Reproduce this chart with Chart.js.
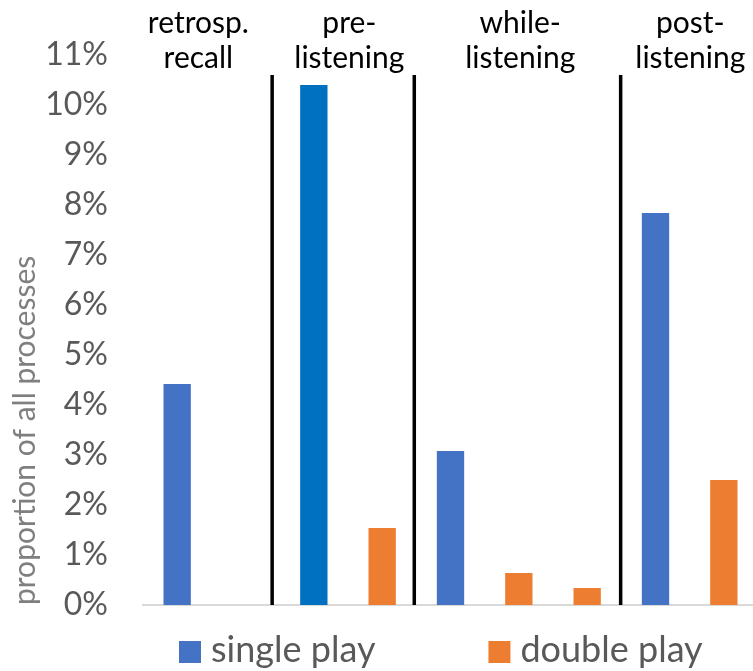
<!DOCTYPE html>
<html>
<head>
<meta charset="utf-8">
<script src="https://cdn.jsdelivr.net/npm/chart.js@4.4.1/dist/chart.umd.min.js"></script>
<style>
  html, body { margin: 0; padding: 0; overflow: hidden; background: #ffffff; }
  #wrap { width: 758px; height: 671px; }
</style>
</head>
<body>
<div id="wrap"><canvas id="chart" width="758" height="671"></canvas></div>
<script>
// Share of all coded processes (%), one bar per slot.
// Slots: recall (single, double) | pre-listening (single, double) |
//        while-listening (single, double 1st, double 2nd) | post-listening (single, double)
const slots = [
  'recall single', 'recall double',
  'pre single', 'pre double',
  'while single', 'while double 1st', 'while double 2nd',
  'post single', 'post double'
];
const singlePlay = [4.42, null, 10.4, null, 3.08, null, null, 7.84, null];
const doublePlay = [null, null, null, 1.54, null, 0.64, 0.34, null, 2.5];
const yTickValues = [0, 1, 2, 3, 4, 5, 6, 7, 8, 9, 10, 11];
const phaseNames = [
  ['retrosp.', 'recall'],
  ['pre-', 'listening'],
  ['while-', 'listening'],
  ['post-', 'listening']
];

const BLUE = '#4472C4';
const BLUE_DARK = '#0070C0';
const ORANGE = '#ED7D31';
const FONT = 'Lato';

Chart.defaults.font.family = FONT;

// Phase headings above the plot, centred in slot units of the x scale
const phaseHeadings = {
  id: 'phaseHeadings',
  afterDraw(chart, args, opts) {
    const { ctx, chartArea, scales: { x } } = chart;
    ctx.save();
    ctx.font = `${opts.size}px ${FONT}`;
    ctx.fillStyle = opts.color;
    ctx.textAlign = 'center';
    ctx.textBaseline = 'alphabetic';
    phaseNames.forEach((lines, i) => {
      const cx = x.getPixelForValue(opts.centres[i]);
      lines.forEach((line, j) => {
        ctx.fillText(line, cx, chartArea.top + opts.firstBaseline + j * opts.lineGap);
      });
    });
    ctx.restore();
  }
};

// Vertical separators between the listening phases
const phaseDividers = {
  id: 'phaseDividers',
  afterDatasetsDraw(chart, args, opts) {
    const { ctx, scales: { x, y } } = chart;
    ctx.save();
    ctx.strokeStyle = opts.color;
    ctx.lineWidth = opts.width;
    opts.at.forEach(v => {
      const px = x.getPixelForValue(v);
      ctx.beginPath();
      ctx.moveTo(px, y.getPixelForValue(opts.top));
      ctx.lineTo(px, y.getPixelForValue(0));
      ctx.stroke();
    });
    ctx.restore();
  }
};

// One-row legend under the plot
const legendRow = {
  id: 'legendRow',
  afterDraw(chart, args, opts) {
    const { ctx, chartArea } = chart;
    ctx.save();
    ctx.font = `${opts.size}px ${FONT}`;
    ctx.textAlign = 'left';
    ctx.textBaseline = 'middle';
    let px = chartArea.left + opts.offsetX;
    const cy = chartArea.bottom + opts.offsetY;
    chart.data.datasets.forEach(ds => {
      ctx.fillStyle = ds.legendColor;
      ctx.fillRect(px, cy - opts.box / 2, opts.box, opts.box);
      px += opts.box + opts.textGap;
      ctx.fillStyle = opts.color;
      ctx.fillText(ds.label, px, cy + opts.textShift);
      px += ctx.measureText(ds.label).width + opts.itemGap;
    });
    ctx.restore();
  }
};

new Chart(document.getElementById('chart'), {
  type: 'bar',
  data: {
    labels: slots,
    datasets: [
      {
        label: 'single play',
        data: singlePlay,
        legendColor: BLUE,
        backgroundColor: slots.map((s, i) => i === 2 ? BLUE_DARK : BLUE)
      },
      {
        label: 'double play',
        data: doublePlay,
        legendColor: ORANGE,
        backgroundColor: ORANGE
      }
    ]
  },
  options: {
    responsive: false,
    animation: false,
    layout: { padding: { top: 55, bottom: 66, left: 0, right: 0 } },
    datasets: {
      bar: { grouped: false, barPercentage: 0.4, categoryPercentage: 1.0 }
    },
    scales: {
      x: {
        type: 'category',
        offset: true,
        ticks: { display: false },
        grid: { display: false, drawTicks: false },
        border: { display: true, color: '#D9D9D9', width: 2 }
      },
      y: {
        min: 0,
        max: 11,
        afterBuildTicks: scale => { scale.ticks = yTickValues.map(v => ({ value: v })); },
        afterFit: scale => { scale.width = 143; },
        ticks: {
          padding: 35,
          color: '#595959',
          font: { size: 32 },
          callback: v => v + '%'
        },
        grid: { display: false, drawTicks: false },
        border: { display: false },
        title: {
          display: true,
          text: 'proportion of all processes',
          align: 'start',
          color: '#7F7F7F',
          font: { size: 30 },
          padding: { top: 7, bottom: 0 }
        }
      }
    },
    plugins: {
      legend: { display: false },
      tooltip: { enabled: false },
      phaseHeadings: { centres: [0.31, 2.52, 5.02, 7.51], size: 30, color: '#000000', firstBaseline: -22, lineGap: 35 },
      phaseDividers: { at: [1.39, 3.47, 6.49], top: 10.6, width: 3.5, color: '#000000' },
      legendRow: { offsetX: 36, offsetY: 47, box: 22, textGap: 10, itemGap: 113, size: 36, textShift: -2, color: '#595959' }
    }
  },
  plugins: [phaseDividers, phaseHeadings, legendRow]
});
</script>
</body>
</html>
